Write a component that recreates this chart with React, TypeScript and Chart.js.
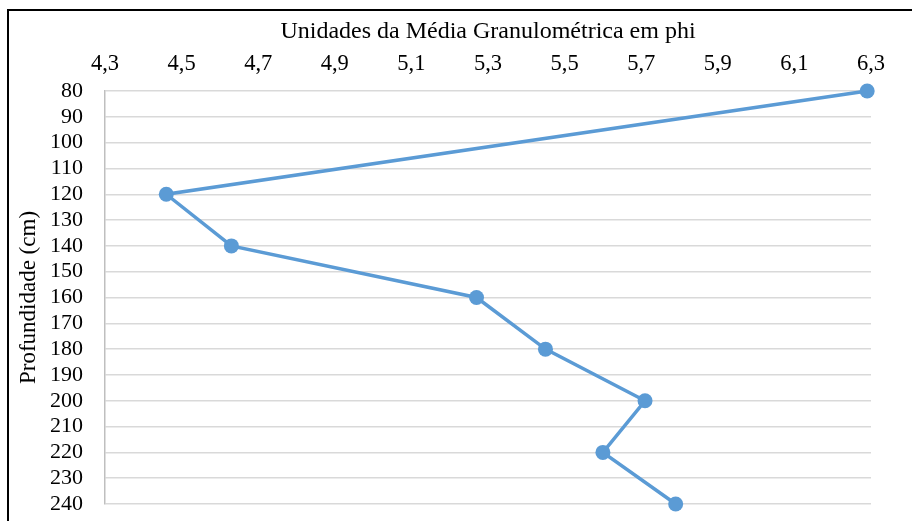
import React, { useEffect, useRef } from "react";
import { Chart, registerables } from "chart.js";

Chart.register(...registerables);

const depthCm = [80, 120, 140, 160, 180, 200, 220, 240];
const meanPhi = [6.29, 4.46, 4.63, 5.27, 5.45, 5.71, 5.6, 5.79];
const xTickValues = [4.3, 4.5, 4.7, 4.9, 5.1, 5.3, 5.5, 5.7, 5.9, 6.1, 6.3];
const xTitle = "Unidades da Média Granulométrica em phi";
const yTitle = "Profundidade (cm)";

export default function App() {
  const ref = useRef<HTMLCanvasElement | null>(null);

  useEffect(() => {
    if (!ref.current) return;
    const font = "'Liberation Serif', 'Times New Roman', serif";
    const chart = new Chart(ref.current, {
      type: "scatter",
      data: {
        datasets: [
          {
            data: meanPhi.map((v, i) => ({ x: v, y: depthCm[i] })),
            showLine: true,
            borderColor: "#5B9BD5",
            backgroundColor: "#5B9BD5",
            borderWidth: 3.5,
            pointRadius: 7.5,
            pointBorderWidth: 0,
            pointHoverRadius: 7.5,
            clip: false,
          },
        ],
      },
      options: {
        responsive: false,
        animation: false,
        devicePixelRatio: 1,
        layout: { padding: { left: 0, right: 41, top: 10, bottom: 17 } },
        plugins: { legend: { display: false }, tooltip: { enabled: false } },
        scales: {
          x: {
            type: "linear",
            position: "top",
            min: 4.3,
            max: 6.3,
            afterBuildTicks: (scale: any) => {
              scale.ticks = xTickValues.map((v) => ({ value: v }));
            },
            afterFit: (scale: any) => {
              scale.height = 81;
            },
            grid: { display: false, drawTicks: false },
            border: { display: false },
            ticks: {
              padding: 13,
              color: "#000",
              font: { family: font, size: 22.5 },
              maxRotation: 0,
              autoSkip: false,
              callback: (v: any) => Number(v).toFixed(1).replace(".", ","),
            },
            title: {
              display: true,
              text: xTitle,
              color: "#000",
              font: { family: font, size: 24 },
              padding: { top: 7, bottom: 0 },
            },
          },
          y: {
            type: "linear",
            reverse: true,
            min: 80,
            max: 240,
            afterFit: (scale: any) => {
              scale.width = 105;
              scale.paddingTop = 0;
              scale.paddingBottom = 0;
            },
            grid: { color: "#D9D9D9", lineWidth: 1.5, drawTicks: false },
            border: { display: true, color: "#BFBFBF", width: 1.5 },
            ticks: {
              stepSize: 10,
              padding: 22,
              autoSkip: false,
              color: "#000",
              font: { family: font, size: 22 },
            },
            title: {
              display: true,
              text: yTitle,
              color: "#000",
              font: { family: font, size: 23 },
              padding: { top: 15, bottom: 0 },
            },
          },
        },
      },
    });
    return () => chart.destroy();
  }, []);

  return (
    <div
      style={{
        position: "fixed",
        left: 0,
        top: 0,
        width: 912,
        height: 521,
        overflow: "hidden",
        background: "#fff",
      }}
    >
      <div
        style={{
          position: "absolute",
          left: 7,
          top: 9,
          width: 1000,
          height: 1000,
          border: "2px solid #000",
          boxSizing: "border-box",
        }}
      />
      <canvas
        ref={ref}
        width={912}
        height={521}
        style={{ position: "absolute", left: 0, top: 0, width: 912, height: 521 }}
      />
    </div>
  );
}
